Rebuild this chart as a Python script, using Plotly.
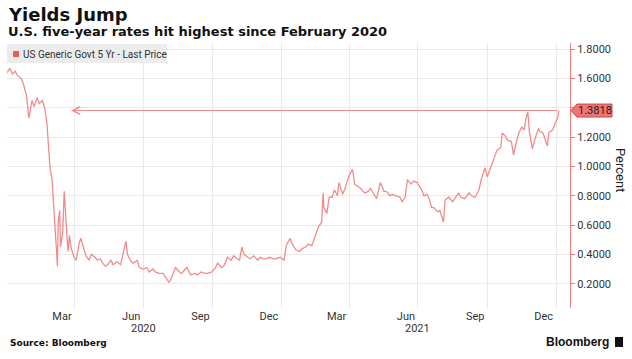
import plotly.graph_objects as go

# ---- data ----
dates = [
    "2020-01-02", "2020-01-06", "2020-01-09", "2020-01-13", "2020-01-16", "2020-01-21", "2020-01-24", "2020-01-28",
    "2020-01-31", "2020-02-04", "2020-02-07", "2020-02-11", "2020-02-14", "2020-02-18", "2020-02-21", "2020-02-24",
    "2020-02-26", "2020-02-28", "2020-03-02", "2020-03-04", "2020-03-06", "2020-03-09", "2020-03-10", "2020-03-12",
    "2020-03-13", "2020-03-16", "2020-03-18", "2020-03-20", "2020-03-23", "2020-03-25", "2020-03-27", "2020-03-31",
    "2020-04-03", "2020-04-07", "2020-04-09", "2020-04-13", "2020-04-16", "2020-04-20", "2020-04-23", "2020-04-28",
    "2020-05-01", "2020-05-05", "2020-05-08", "2020-05-12", "2020-05-15", "2020-05-19", "2020-05-22", "2020-05-27",
    "2020-06-01", "2020-06-04", "2020-06-08", "2020-06-10", "2020-06-15", "2020-06-18", "2020-06-23", "2020-06-26",
    "2020-07-01", "2020-07-06", "2020-07-09", "2020-07-14", "2020-07-17", "2020-07-22", "2020-07-27", "2020-07-30",
    "2020-08-04", "2020-08-06", "2020-08-11", "2020-08-13", "2020-08-18", "2020-08-21", "2020-08-26", "2020-08-28",
    "2020-09-02", "2020-09-08", "2020-09-11", "2020-09-16", "2020-09-21", "2020-09-25", "2020-09-30", "2020-10-05",
    "2020-10-08", "2020-10-13", "2020-10-16", "2020-10-21", "2020-10-26", "2020-10-29", "2020-11-03", "2020-11-06",
    "2020-11-09", "2020-11-12", "2020-11-17", "2020-11-20", "2020-11-25", "2020-11-30", "2020-12-03", "2020-12-08",
    "2020-12-11", "2020-12-16", "2020-12-21", "2020-12-24", "2020-12-30",
    "2021-01-04", "2021-01-07", "2021-01-12", "2021-01-15", "2021-01-20", "2021-01-25", "2021-01-28", "2021-02-02",
    "2021-02-05", "2021-02-10", "2021-02-12", "2021-02-16", "2021-02-19", "2021-02-23", "2021-02-25", "2021-02-26",
    "2021-03-02", "2021-03-05", "2021-03-09", "2021-03-12", "2021-03-16", "2021-03-18", "2021-03-23", "2021-03-26",
    "2021-03-31", "2021-04-05", "2021-04-08", "2021-04-13", "2021-04-16", "2021-04-21", "2021-04-26", "2021-04-29",
    "2021-05-04", "2021-05-07", "2021-05-12", "2021-05-17", "2021-05-20", "2021-05-25", "2021-05-28", "2021-06-02",
    "2021-06-07", "2021-06-10", "2021-06-14", "2021-06-17", "2021-06-22", "2021-06-25", "2021-06-30", "2021-07-06",
    "2021-07-09", "2021-07-13", "2021-07-16", "2021-07-19", "2021-07-22", "2021-07-27", "2021-07-30", "2021-08-04",
    "2021-08-06", "2021-08-11", "2021-08-16", "2021-08-19", "2021-08-24", "2021-08-27", "2021-09-01", "2021-09-07",
    "2021-09-10", "2021-09-15", "2021-09-20", "2021-09-23", "2021-09-28", "2021-10-01", "2021-10-06", "2021-10-11",
    "2021-10-14", "2021-10-19", "2021-10-21", "2021-10-26", "2021-10-28", "2021-11-02", "2021-11-05", "2021-11-08",
    "2021-11-12", "2021-11-16", "2021-11-19", "2021-11-22", "2021-11-24", "2021-11-26", "2021-11-30", "2021-12-03",
    "2021-12-08", "2021-12-10", "2021-12-14", "2021-12-16", "2021-12-20", "2021-12-22", "2021-12-27", "2021-12-30",
    "2022-01-03", "2022-01-04",
]
yields = [
    1.64, 1.67, 1.63, 1.65, 1.62, 1.60, 1.56, 1.48,
    1.33, 1.45, 1.41, 1.47, 1.43, 1.45, 1.40, 1.30,
    1.15, 1.00, 0.90, 0.72, 0.58, 0.32, 0.62, 0.70,
    0.45, 0.55, 0.83, 0.64, 0.42, 0.53, 0.45, 0.38,
    0.36, 0.48, 0.51, 0.44, 0.39, 0.36, 0.40, 0.38,
    0.36, 0.37, 0.34, 0.32, 0.33, 0.36, 0.33, 0.35,
    0.33, 0.40, 0.49, 0.40, 0.35, 0.34, 0.36, 0.31,
    0.30, 0.31, 0.28, 0.30, 0.28, 0.27, 0.27, 0.25,
    0.21, 0.22, 0.29, 0.31, 0.28, 0.27, 0.30, 0.31,
    0.26, 0.27, 0.26, 0.28, 0.27, 0.27, 0.28, 0.31,
    0.34, 0.31, 0.32, 0.38, 0.36, 0.39, 0.37, 0.36,
    0.45, 0.40, 0.38, 0.37, 0.39, 0.36, 0.38, 0.37,
    0.37, 0.38, 0.37, 0.37, 0.38,
    0.36, 0.46, 0.51, 0.47, 0.43, 0.42, 0.44, 0.45,
    0.47, 0.46, 0.49, 0.55, 0.59, 0.62, 0.82, 0.72,
    0.68, 0.79, 0.79, 0.84, 0.80, 0.89, 0.81, 0.85,
    0.93, 0.98, 0.88, 0.86, 0.85, 0.82, 0.83, 0.85,
    0.80, 0.78, 0.89, 0.83, 0.83, 0.80, 0.81, 0.80,
    0.79, 0.76, 0.79, 0.91, 0.88, 0.90, 0.89, 0.84,
    0.80, 0.81, 0.78, 0.72, 0.72, 0.69, 0.70, 0.62,
    0.77, 0.79, 0.76, 0.78, 0.82, 0.79, 0.78, 0.82,
    0.80, 0.79, 0.84, 0.91, 0.99, 0.93, 1.00, 1.08,
    1.11, 1.13, 1.23, 1.20, 1.18, 1.17, 1.08, 1.15,
    1.23, 1.27, 1.25, 1.34, 1.37, 1.24, 1.12, 1.18,
    1.26, 1.24, 1.23, 1.20, 1.14, 1.23, 1.25, 1.29,
    1.34, 1.3818,
]
last_value = 1.3818
arrow_from = "2020-03-27"

y_tickvals = [0.2, 0.4, 0.6, 0.8, 1.0, 1.2, 1.4, 1.6, 1.8]
y_ticktext = ["0.2000", "0.4000", "0.6000", "0.8000", "1.0000", "1.2000", "", "1.6000", "1.8000"]
x_tickvals = ["2020-03-15", "2020-06-15", "2020-09-15", "2020-12-15",
              "2021-03-15", "2021-06-15", "2021-09-15", "2021-12-15"]
x_ticktext = ["Mar", "Jun", "Sep", "Dec", "Mar", "Jun", "Sep", "Dec"]
x_gridvals = ["2020-04-01", "2020-07-01", "2020-10-01", "2021-01-01",
              "2021-04-01", "2021-07-01", "2021-10-01", "2022-01-01"]
year_labels = ["2020", "2021"]
year_pos = ["2020-07-01", "2021-07-01"]

LINE = "#f28b8b"
AXIS = "#ef7d7d"
GRID = "#e9e9e9"
TXT = "#333333"

fig = go.Figure()
fig.add_trace(go.Scatter(x=dates, y=yields, mode="lines",
                         line=dict(color=LINE, width=1.3), hoverinfo="skip",
                         showlegend=False))

ymin, ymax = 0.034, 1.843

fig.update_layout(
    width=632, height=359,
    margin=dict(l=7, r=62, t=43, b=51),
    paper_bgcolor="white", plot_bgcolor="white",
    showlegend=False,
    font=dict(family="Roboto", size=11, color=TXT),
    xaxis=dict(
        type="date", range=["2020-01-02", "2022-01-19"],
        tickmode="array", tickvals=x_tickvals, ticktext=x_ticktext,
        showgrid=False, ticks="", showline=False, zeroline=False,
        tickfont=dict(family="Roboto", size=11, color=TXT),
        minor=dict(tickmode="array", tickvals=x_gridvals, showgrid=True,
                   gridcolor=GRID, gridwidth=1, ticks=""),
    ),
    yaxis=dict(
        side="right", range=[ymin, ymax],
        tickmode="array", tickvals=y_tickvals, ticktext=y_ticktext,
        showgrid=True, gridcolor=GRID, zeroline=False,
        showline=True, linecolor=AXIS, linewidth=1,
        ticks="outside", ticklen=4, tickcolor=AXIS,
        tickfont=dict(family="Roboto", size=11, color=TXT),
    ),
)

def py(pixel_y):
    return (308 - pixel_y) / 265.0

def px(pixel_x):
    return (pixel_x - 7) / 563.0

shapes = []
# legend box
shapes.append(dict(type="rect", xref="paper", yref="paper", x0=px(7), x1=px(167), y0=py(63), y1=py(44),
                   fillcolor="#ececec", line=dict(width=0), layer="above"))
shapes.append(dict(type="rect", xref="paper", yref="paper", x0=px(13), x1=px(19), y0=py(57), y1=py(51),
                   fillcolor="#e85c5c", line=dict(width=0), layer="above"))
# last value label box with pointer
yl = (last_value - ymin) / (ymax - ymin)
h = 6.5 / 265.0
shapes.append(dict(type="path", xref="paper", yref="paper",
                   path=f"M {px(571)},{yl} L {px(577)},{yl + h} L {px(612)},{yl + h} L {px(612)},{yl - h} L {px(577)},{yl - h} Z",
                   fillcolor="#f07474", line=dict(color="#c94a4a", width=1), layer="above"))
# Bloomberg icon
shapes.append(dict(type="rect", xref="paper", yref="paper", x0=px(615), x1=px(623), y0=py(347), y1=py(337),
                   fillcolor="#111111", line=dict(width=0), layer="above"))
fig.update_layout(shapes=shapes)

ann = []
# horizontal arrow line at the last value
ann.append(dict(x=arrow_from, y=last_value, ax=dates[-1], ay=last_value,
                xref="x", yref="y", axref="x", ayref="y", text="",
                showarrow=True, arrowhead=5, arrowsize=1.5, arrowwidth=1,
                arrowcolor=LINE, standoff=0, startstandoff=0))
ann.append(dict(x=px(594.5), y=yl, xref="paper", yref="paper", text="1.3818", showarrow=False,
                font=dict(family="Roboto", size=11, color="#222222"), xanchor="center", yanchor="middle"))
ann.append(dict(x=px(21), y=py(54), xref="paper", yref="paper", text="US Generic Govt 5 Yr - Last Price",
                showarrow=False, xanchor="left", yanchor="middle",
                font=dict(family="Roboto", size=10, color=TXT)))
for lbl, pos in zip(year_labels, year_pos):
    ann.append(dict(x=pos, y=py(328), xref="x", yref="paper", text=lbl, showarrow=False,
                    xanchor="center", yanchor="middle", font=dict(family="Roboto", size=11, color=TXT)))
ann.append(dict(x=px(6), y=py(14), xref="paper", yref="paper", text="<b>Yields Jump</b>", showarrow=False,
                xanchor="left", yanchor="middle", font=dict(family="DejaVu Sans", size=18, color="#111111")))
ann.append(dict(x=px(6), y=py(31), xref="paper", yref="paper",
                text="<b>U.S. five-year rates hit highest since February 2020</b>", showarrow=False,
                xanchor="left", yanchor="middle", font=dict(family="DejaVu Sans", size=13, color="#111111")))
ann.append(dict(x=px(8), y=py(343), xref="paper", yref="paper", text="<b>Source: Bloomberg</b>",
                showarrow=False, xanchor="left", yanchor="middle",
                font=dict(family="DejaVu Sans", size=9, color="#111111")))
ann.append(dict(x=px(611), y=py(342), xref="paper", yref="paper", text="<b>Bloomberg</b>",
                showarrow=False, xanchor="right", yanchor="middle",
                font=dict(family="Liberation Sans", size=12, color="#111111")))
ann.append(dict(x=px(621), y=py(170), xref="paper", yref="paper", text="Percent", textangle=90,
                showarrow=False, xanchor="center", yanchor="middle",
                font=dict(family="Roboto", size=13, color="#222222")))
fig.update_layout(annotations=ann)

fig.write_html("out.html", config={"displayModeBar": False},
               post_script="document.body.style.margin='0px';document.body.style.padding='0px';")
